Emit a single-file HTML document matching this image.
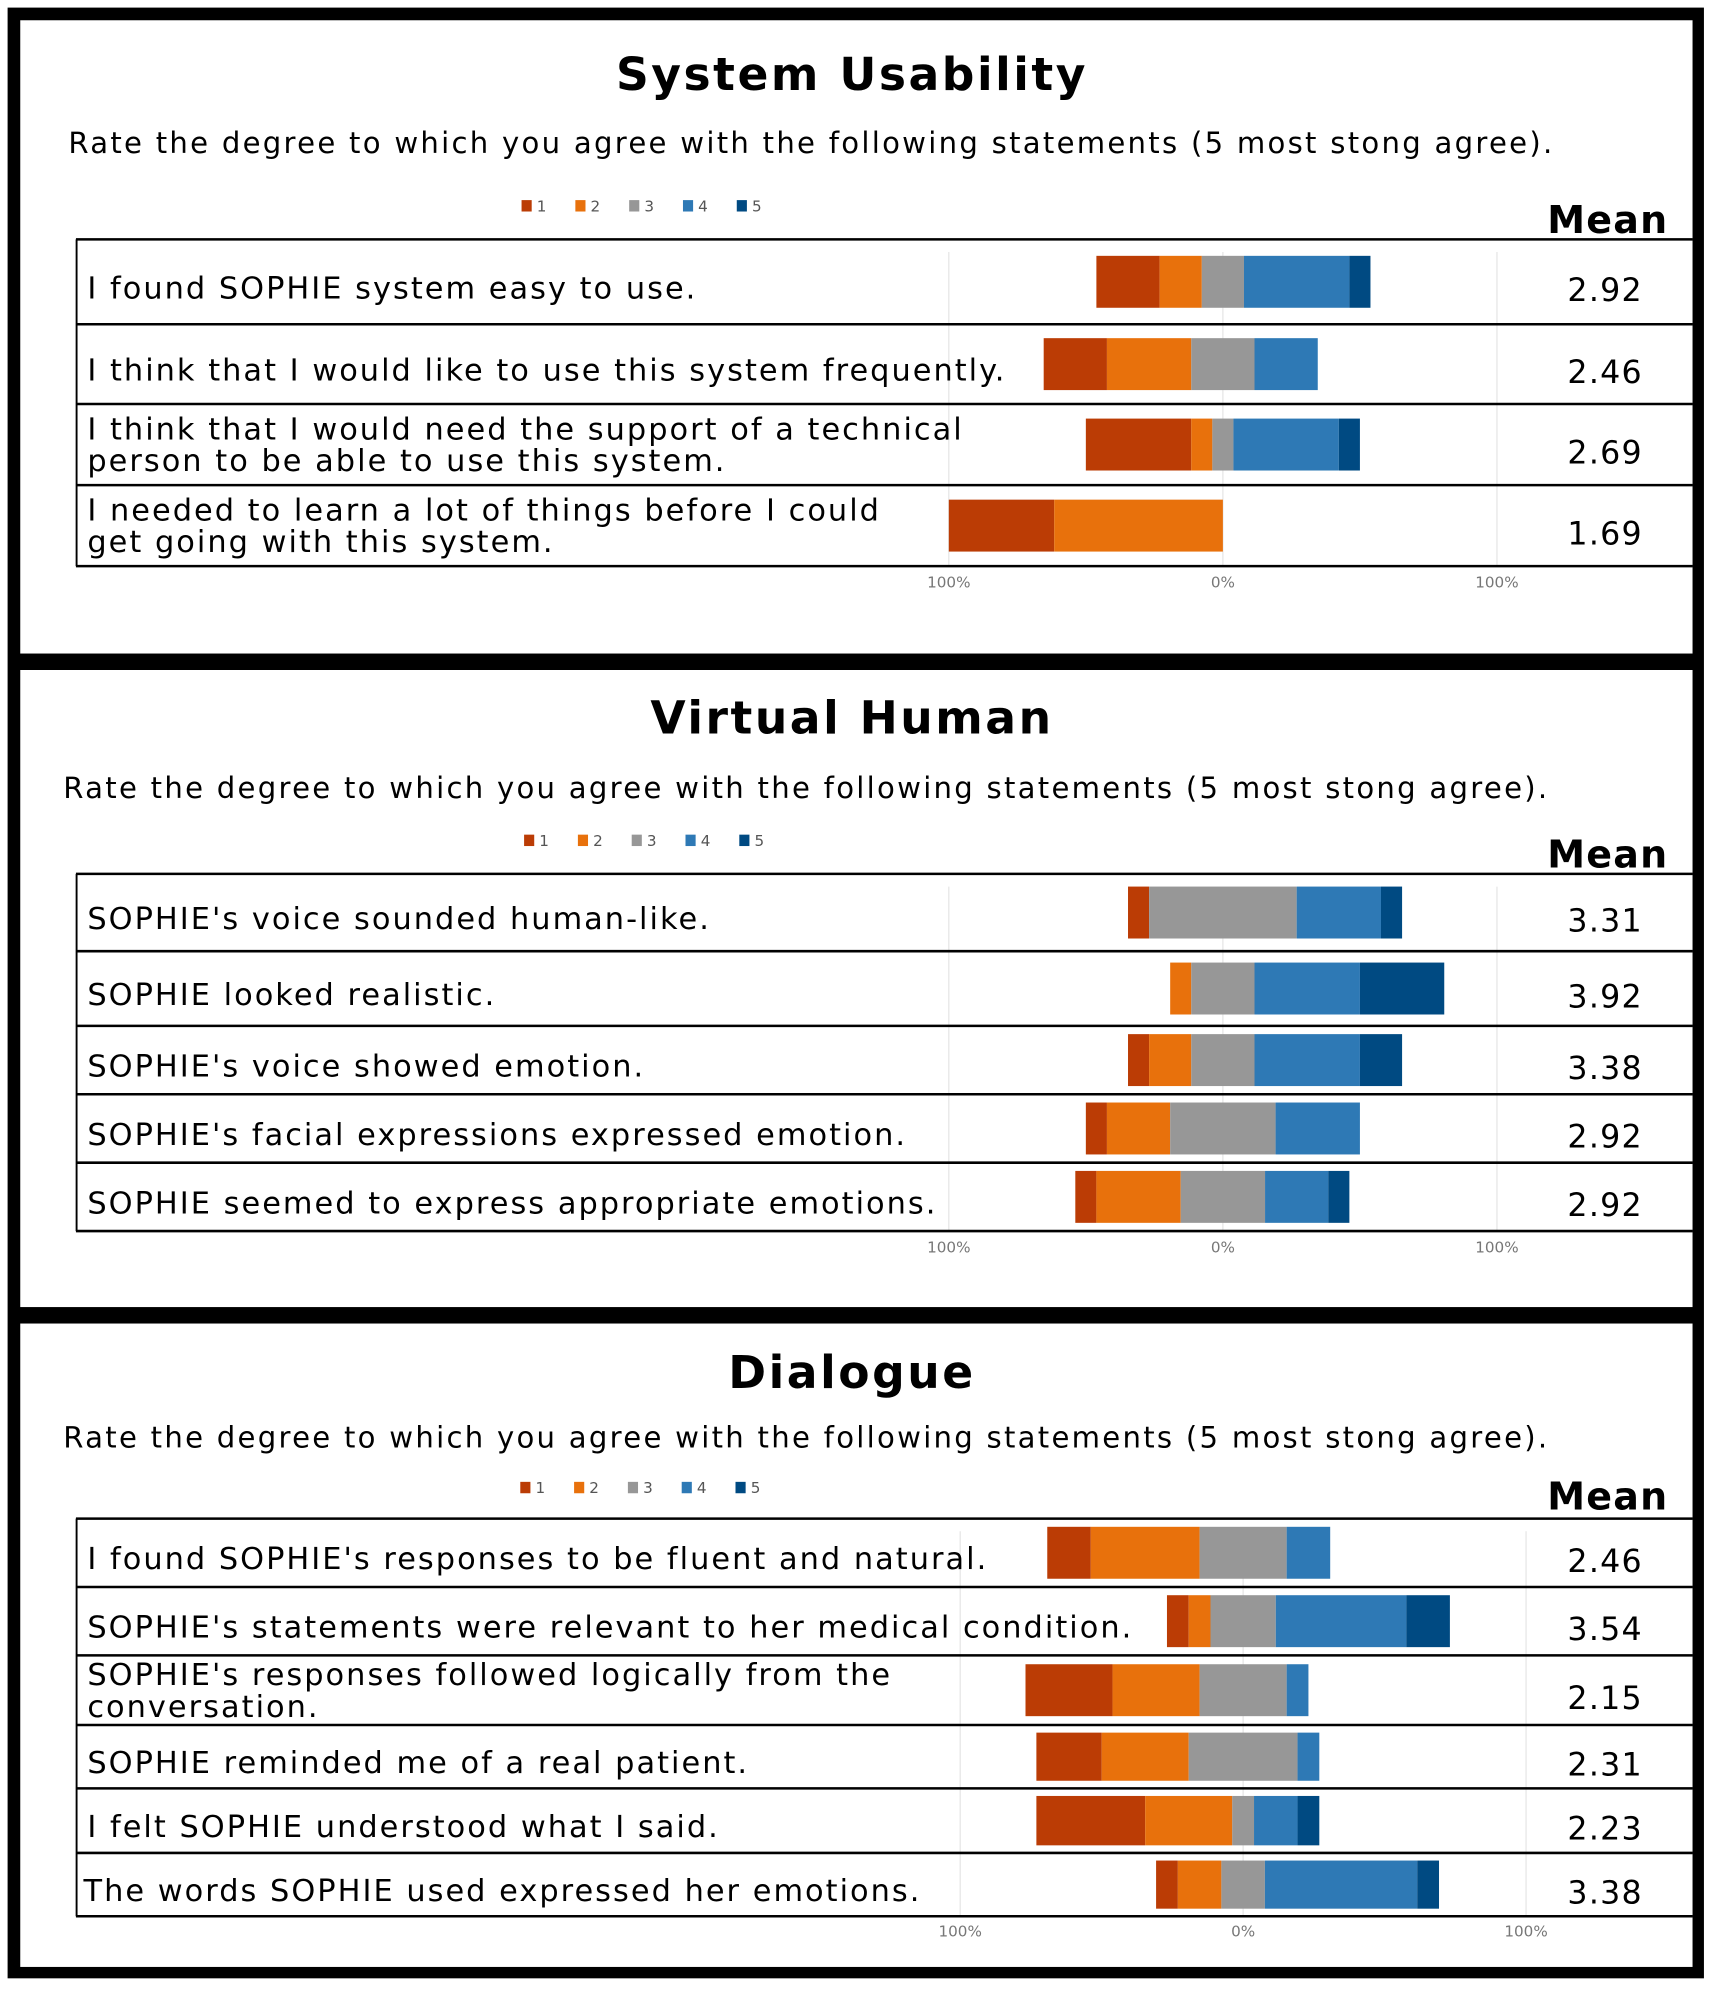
<!DOCTYPE html>
<html><head><meta charset="utf-8">
<style>
html,body{margin:0;padding:0;background:#fff;}
svg{display:block;}
text{font-family:"DejaVu Sans","Liberation Sans",sans-serif;}
</style></head>
<body>
<svg id="chart" width="1709" height="1991" viewBox="0 0 1350 1572" preserveAspectRatio="none" xmlns="http://www.w3.org/2000/svg">
<rect x="0" y="0" width="1350" height="1572" fill="#fff"/>
<rect x="6" y="6" width="1340" height="1556" fill="#000"/>
<g id="root"></g>
</svg>
<script>
// ---- data (percent of respondents, n=13) ----
const levels = ["1","2","3","4","5"];
const colors = ["#bb3c05","#e8710c","#979797","#2e79b5","#004a82"];
const axisTicks = ["100%","0%","100%"];

const s1Title = "System Usability";
const s1Labels = [["I found SOPHIE system easy to use."],["I think that I would like to use this system frequently."],["I think that I would need the support of a technical","person to be able to use this system."],["I needed to learn a lot of things before I could","get going with this system."]];
const s1Counts = [[3,2,2,5,1],[3,4,3,3,0],[5,1,1,5,1],[5,8,0,0,0]];
const s1Means = ["2.92","2.46","2.69","1.69"];

const s2Title = "Virtual Human";
const s2Labels = [["SOPHIE's voice sounded human-like."],["SOPHIE looked realistic."],["SOPHIE's voice showed emotion."],["SOPHIE's facial expressions expressed emotion."],["SOPHIE seemed to express appropriate emotions."]];
const s2Counts = [[1,0,7,4,1],[0,1,3,5,4],[1,2,3,5,2],[1,3,5,4,0],[1,4,4,3,1]];
const s2Means = ["3.31","3.92","3.38","2.92","2.92"];

const s3Title = "Dialogue";
const s3Labels = [["I found SOPHIE's responses to be fluent and natural."],["SOPHIE's statements were relevant to her medical condition."],["SOPHIE's responses followed logically from the","conversation."],["SOPHIE reminded me of a real patient."],["I felt SOPHIE understood what I said."],["The words SOPHIE used expressed her emotions."]];
const s3Counts = [[2,5,4,2,0],[1,1,3,6,2],[4,4,4,1,0],[3,4,5,1,0],[5,4,1,2,1],[1,2,2,7,1]];
const s3Means = ["2.46","3.54","2.15","2.31","2.23","3.38"];
const N = 13;

// ---- layout ----
const NS="http://www.w3.org/2000/svg";
const root=document.getElementById('root');
function mk(tag,attrs,parent,txt){const e=document.createElementNS(NS,tag);for(const k in attrs)e.setAttribute(k,attrs[k]);if(txt!==undefined)e.textContent=txt;(parent||root).appendChild(e);return e;}

const sections=[
 {title:s1Title,labels:s1Labels,counts:s1Counts,means:s1Means,py:16,ph:500,titleY:71,subX:54,subY:121,legX:412,legY:163,meanY:184,rows:[189,256,319,383,447],axY:464,zero:966,span:216.5},
 {title:s2Title,labels:s2Labels,counts:s2Counts,means:s2Means,py:529,ph:503,titleY:579,subX:50,subY:630,legX:414,legY:664,meanY:685,rows:[690,751,810,864,918,972],axY:989,zero:966,span:216.5},
 {title:s3Title,labels:s3Labels,counts:s3Counts,means:s3Means,py:1045,ph:508,titleY:1096,subX:50,subY:1143,legX:411,legY:1175,meanY:1192,rows:[1199,1253,1307,1362,1412,1463,1513],axY:1529,zero:982,span:223.5}
];

sections.forEach((s,si)=>{
 const g=mk('g',{});
 
 
 const bg=mk('rect',{x:16,y:s.py,width:1321,height:s.ph,fill:'#fff'},g);
 
 
 const t=mk('text',{x:673,y:s.titleY,'text-anchor':'middle','font-size':36,'font-weight':'bold','letter-spacing':2,fill:'#000'},g,s.title);
 
 
 const st=mk('text',{x:s.subX,y:s.subY,'font-size':23,'letter-spacing':1.8,fill:'#000'},g,"Rate the degree to which you agree with the following statements (5 most stong agree).");
 
 
 levels.forEach((lv,i)=>{
  const lx=s.legX+i*42.5;
  const r=mk('rect',{x:lx,y:s.legY-5,width:8,height:9,fill:colors[i]},g);
  
  
  const lt=mk('text',{x:lx+12,y:s.legY+4,'font-size':12,fill:'#555'},g,lv);
  
  
 });
 const mh=mk('text',{x:1318,y:s.meanY,'text-anchor':'end','font-size':30,'font-weight':'bold','letter-spacing':1,fill:'#000'},g,"Mean");
 
 
 const xs=p=>s.zero+p/100*s.span;
 [-100,0,100].forEach((p,i)=>{
  const gl=mk('line',{x1:xs(p),x2:xs(p),y1:s.rows[0]+10,y2:s.rows[s.rows.length-1],stroke:'#e6e6e6','stroke-width':1},g);
  
  
  const at=mk('text',{x:xs(p),y:s.axY,'text-anchor':'middle','font-size':12,fill:'#777'},g,axisTicks[i]);
  
  
 });
 s.labels.forEach((lab,ri)=>{
  const y0=s.rows[ri],y1=s.rows[ri+1],h=y1-y0;
  const cnt=s.counts[ri];
  const pct=cnt.map(c=>c/N*100);
  let x=-(pct[0]+pct[1]+pct[2]/2);
  const barTop=y0+Math.max(6,(h-41)/2), barH=Math.min(41,h-12);
  pct.forEach((p,k)=>{
   if(p<=0)return;
   const r=mk('rect',{x:xs(x),y:barTop,width:xs(x+p)-xs(x),height:barH,fill:colors[k]},g);
   
   
   x+=p;
  });
  const lines=lab.length;
  lab.forEach((ln,li)=>{
   let ty = lines===1 ? y0+h/2+13 : y0+h/2-4+li*25;
   const tx=mk('text',{x:(si===2&&ri===5)?66:69,y:ty,'font-size':24,'letter-spacing':1.6,fill:'#000'},g,ln);
   
   
  });
  const mv=mk('text',{x:1268,y:y0+h/2+15,'text-anchor':'middle','font-size':25,'letter-spacing':1,fill:'#000'},g,s.means[ri]);
  
  
 });
 const last=s.rows[s.rows.length-1];
 const lb=mk('line',{x1:60.5,x2:60.5,y1:s.rows[0],y2:last,stroke:'#000','stroke-width':1.5},g);
 
 
 s.rows.forEach(yy=>{
  const hl=mk('line',{x1:60,x2:1337,y1:yy,y2:yy,stroke:'#000','stroke-width':2},g);
  
  
 });
});
</script>
</body></html>
